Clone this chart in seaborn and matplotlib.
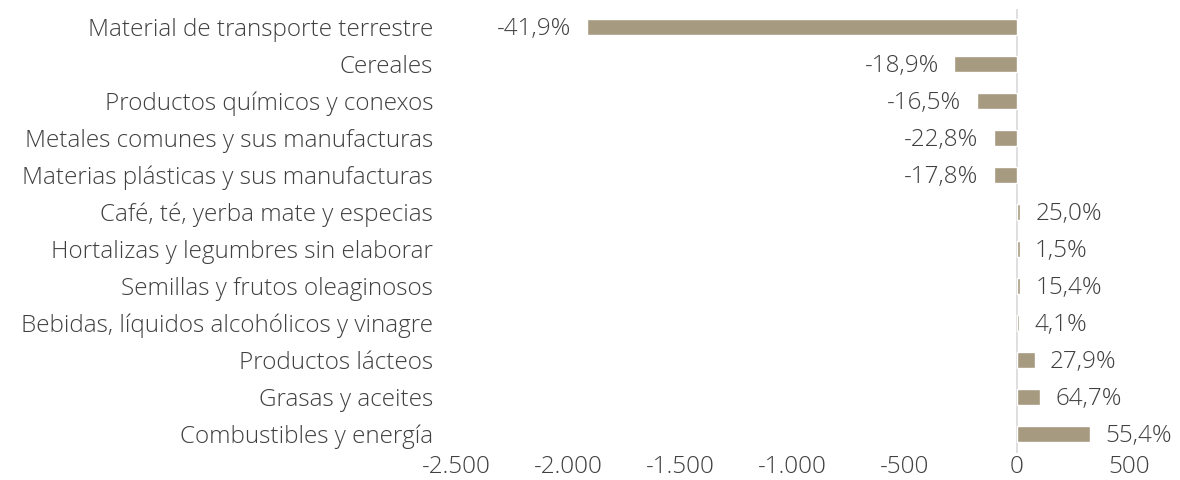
import pandas as pd
import matplotlib.pyplot as plt
import seaborn as sns
from matplotlib.ticker import FuncFormatter

# Data (variation, absolute value and % change)
categorias = [
    "Material de transporte terrestre",
    "Cereales",
    "Productos químicos y conexos",
    "Metales comunes y sus manufacturas",
    "Materias plásticas y sus manufacturas",
    "Café, té, yerba mate y especias",
    "Hortalizas y legumbres sin elaborar",
    "Semillas y frutos oleaginosos",
    "Bebidas, líquidos alcohólicos y vinagre",
    "Productos lácteos",
    "Grasas y aceites",
    "Combustibles y energía",
]
valores = [-1918, -278, -178, -104, -104, 15, 13, 15, 10, 80, 104, 325]
etiquetas = ["-41,9%", "-18,9%", "-16,5%", "-22,8%", "-17,8%", "25,0%",
             "1,5%", "15,4%", "4,1%", "27,9%", "64,7%", "55,4%"]

df = pd.DataFrame({"categoria": categorias, "valor": valores})

sns.set_style("white")
plt.rcParams["font.family"] = ["Open Sans", "DejaVu Sans"]
text_color = "#404040"
bar_color = "#A69A80"

fig, ax = plt.subplots(figsize=(11.8, 4.8), dpi=100)
fig.subplots_adjust(left=0.3864, right=0.9568, top=0.982, bottom=0.057)

sns.barplot(data=df, x="valor", y="categoria", orient="h", color=bar_color,
            width=0.42, saturation=1, ax=ax)

for i, (v, lab) in enumerate(zip(valores, etiquetas)):
    off = 11 if v >= 0 else -11
    ax.annotate(lab, (v, i), xytext=(off, -1), textcoords="offset points",
                ha="left" if v >= 0 else "right", va="center",
                fontsize=17.5, color=text_color, fontweight="light")

ax.set_xlim(-2500, 500)
ax.set_xticks(range(-2500, 501, 500))
ax.xaxis.set_major_formatter(FuncFormatter(lambda x, p: f"{int(x):,}".replace(",", ".")))
ax.axvline(0, color="#d9d9d9", lw=1.2, zorder=0)
for s in ax.spines.values():
    s.set_visible(False)
ax.set_xlabel("")
ax.set_ylabel("")
ax.tick_params(axis="both", length=0, colors=text_color)
ax.tick_params(axis="x", labelsize=17.5, pad=2)
ax.tick_params(axis="y", labelsize=17.5, pad=16.5)
for t in ax.get_xticklabels() + ax.get_yticklabels():
    t.set_fontweight("light")

fig.savefig("out.png", dpi=100)
